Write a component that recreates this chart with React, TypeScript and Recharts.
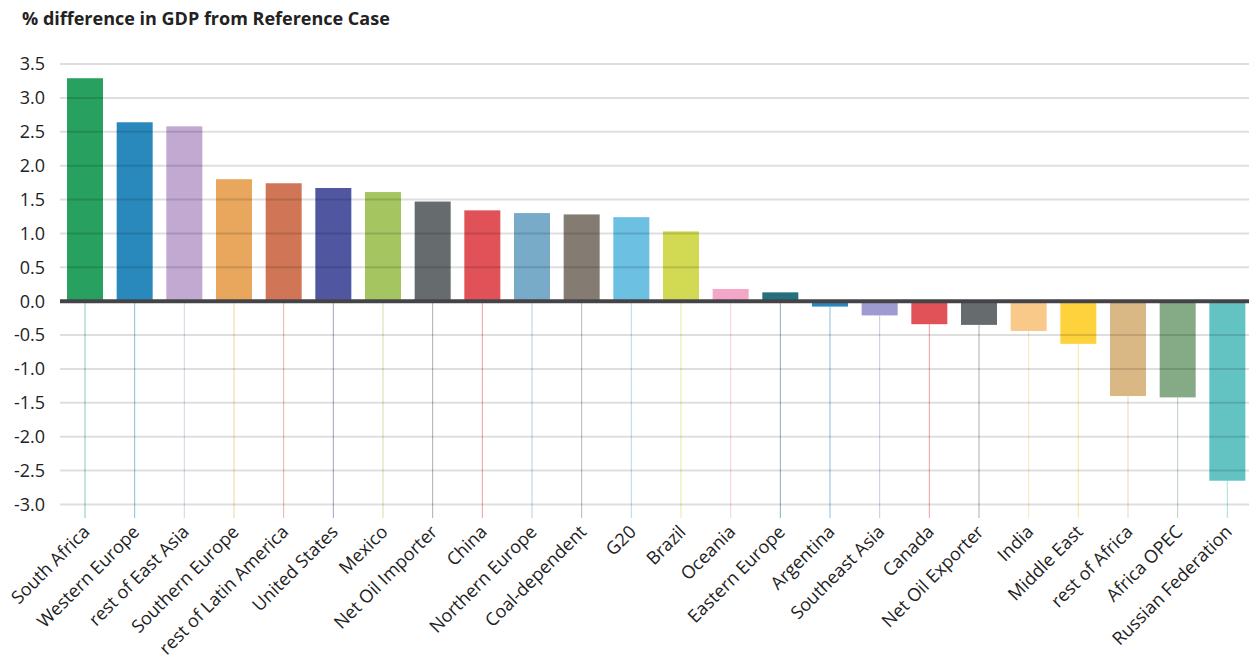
import React from "react";
import { BarChart, Bar, XAxis, YAxis, ReferenceLine } from "recharts";

const regions = [
  "South Africa",
  "Western Europe",
  "rest of East Asia",
  "Southern Europe",
  "rest of Latin America",
  "United States",
  "Mexico",
  "Net Oil Importer",
  "China",
  "Northern Europe",
  "Coal-dependent",
  "G20",
  "Brazil",
  "Oceania",
  "Eastern Europe",
  "Argentina",
  "Southeast Asia",
  "Canada",
  "Net Oil Exporter",
  "India",
  "Middle East",
  "rest of Africa",
  "Africa OPEC",
  "Russian Federation",
];

const gdpDiff = [
  3.29, 2.64, 2.58, 1.8, 1.74, 1.67, 1.61, 1.47, 1.34, 1.3, 1.28, 1.24, 1.03,
  0.18, 0.13, -0.08, -0.21, -0.34, -0.35, -0.44, -0.63, -1.4, -1.42, -2.65,
];

const barColors = [
  "#27a060", "#2a89bc", "#c1a9d2", "#e8a75c", "#d07656", "#5057a0",
  "#a4c55f", "#666b6e", "#e05158", "#77abc8", "#847c72", "#6cc0e2",
  "#d1da52", "#f3a6c8", "#266f7c", "#2a89bc", "#9d9bcf", "#e05158",
  "#666b6e", "#f9c98a", "#fed23c", "#d9b886", "#84aa86", "#62c3c2",
];

const yTicks = [-3, -2.5, -2, -1.5, -1, -0.5, 0, 0.5, 1, 1.5, 2, 2.5, 3, 3.5];

const data = regions.map((name, i) => ({ name, value: gdpDiff[i] }));

const FONT = "'Open Sans', 'Noto Sans', sans-serif";

function StemBar(props: any) {
  const { x, y, width, height, index, background } = props;
  const color = barColors[index];
  const top = Math.min(y, y + height);
  const h = Math.abs(height);
  const bottom = background ? background.y + background.height : 518;
  const cx = x + width / 2;
  return (
    <g>
      <line
        x1={cx}
        x2={cx}
        y1={top + h}
        y2={bottom}
        stroke={color}
        strokeOpacity={0.55}
        strokeWidth={1}
      />
      <rect x={x} y={top} width={width} height={h} fill={color} />
    </g>
  );
}

function RotatedTick(props: any) {
  const { x, y, payload } = props;
  return (
    <g transform={`translate(${x + 6},${y + 7})`}>
      <text
        transform="rotate(-45)"
        textAnchor="end"
        fill="#222"
        fontSize={18}
        fontFamily={FONT}
      >
        {payload.value}
      </text>
    </g>
  );
}

export default function App() {
  return (
    <div
      style={{
        position: "absolute",
        left: 0,
        top: 0,
        width: 1249,
        height: 659,
        overflow: "hidden",
        background: "#fff",
        fontFamily: FONT,
      }}
    >
      <div
        style={{
          position: "absolute",
          left: 22,
          top: 6,
          fontSize: 18,
          fontWeight: 700,
          color: "#222",
        }}
      >
        % difference in GDP from Reference Case
      </div>
      <BarChart
        width={1252}
        height={659}
        data={data}
        margin={{ top: 64, right: 0, left: 0, bottom: 0 }}
        barSize={36}
      >
        <XAxis
          dataKey="name"
          interval={0}
          axisLine={false}
          tickLine={false}
          height={141}
          tick={<RotatedTick />}
        />
        <YAxis
          width={60}
          domain={[-3.2, 3.5]}
          ticks={yTicks}
          axisLine={false}
          tickLine={false}
          tickSize={0}
          tickMargin={15}
          tickFormatter={(v: number) => v.toFixed(1)}
          tick={{ fontSize: 18, fill: "#222", fontFamily: FONT }}
        />
        <Bar
          dataKey="value"
          isAnimationActive={false}
          shape={<StemBar />}
        />
        {yTicks
          .filter((t) => t !== 0)
          .map((t) => (
            <ReferenceLine
              key={t}
              y={t}
              stroke="rgba(0,0,0,0.13)"
              strokeWidth={2}
            />
          ))}
        <ReferenceLine y={0} stroke="#444448" strokeWidth={4} />
      </BarChart>
    </div>
  );
}
